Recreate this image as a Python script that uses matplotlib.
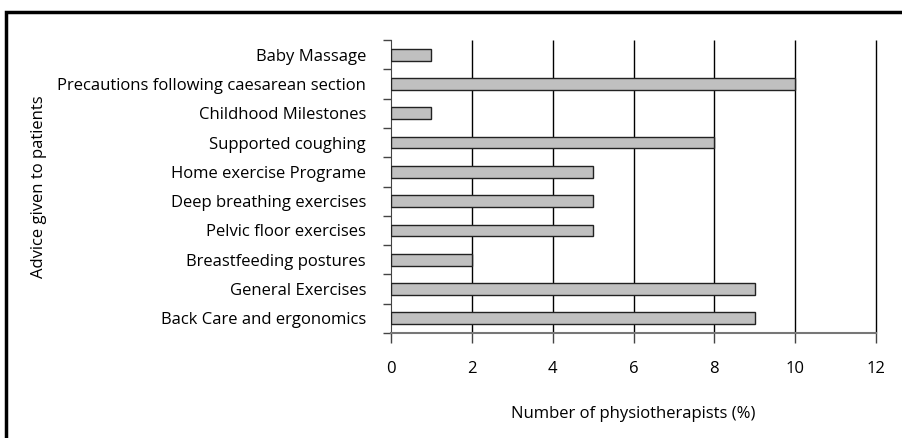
import numpy as np
import matplotlib
matplotlib.use("Agg")
import matplotlib.pyplot as plt
from matplotlib.patches import Rectangle

# 数据
categories = [
    "Baby Massage",
    "Precautions following caesarean section",
    "Childhood Milestones",
    "Supported coughing",
    "Home exercise Programe",
    "Deep breathing exercises",
    "Pelvic floor exercises",
    "Breastfeeding postures",
    "General Exercises",
    "Back Care and ergonomics",
]
values = [1, 10, 1, 8, 5, 5, 5, 2, 9, 9]
x_ticks = [0, 2, 4, 6, 8, 10, 12]

plt.rcParams["font.family"] = ["Open Sans", "DejaVu Sans"]
FS = 12

fig = plt.figure(figsize=(9.02, 4.38), dpi=100)
W, H = 902, 438
ax = fig.add_axes([391 / W, 1 - 333 / H, (876 - 391) / W, (333 - 40) / H])

n = len(categories)
y = np.arange(n)[::-1]
ax.barh(y, values, height=0.4, color="#c0c0c0", edgecolor="#222222", linewidth=1, zorder=3)

ax.set_xlim(0, 12)
ax.set_ylim(-0.5, n - 0.5)
ax.set_xticks(x_ticks)
ax.set_xticklabels([str(t) for t in x_ticks], fontsize=FS)
ax.tick_params(axis="x", length=7, width=1, color="#444444", pad=13)

# 类别标签在中间，刻度线在边界
ax.set_yticks(y)
ax.set_yticklabels(categories, fontsize=FS)
ax.tick_params(axis="y", which="major", length=0, pad=18)
ax.set_yticks(np.arange(n + 1) - 0.5, minor=True)
ax.tick_params(axis="y", which="minor", length=6, width=1, color="#444444")

# 网格线（不裁剪，12 处也完整）
ax.vlines(x_ticks[1:], -0.5, n - 0.5, color="black", linewidth=1, zorder=1, clip_on=False)
for s in ["top", "right"]:
    ax.spines[s].set_visible(False)
ax.spines["left"].set_color("#444444")
ax.spines["bottom"].set_color("#777777")
ax.spines["bottom"].set_linewidth(1.5)

ax.set_xlabel("Number of physiotherapists (%)", fontsize=FS, labelpad=21)
ax.set_ylabel("Advice given to patients", fontsize=FS)
ax.yaxis.set_label_coords((47 - 391) / (876 - 391), 0.5)

# 外框
fig.patches.append(Rectangle((6 / W, -0.1), 1.2, 1 - 12 / H + 0.1, transform=fig.transFigure,
                             fill=False, edgecolor="black", linewidth=2.5))

fig.savefig("out.png", dpi=100)
